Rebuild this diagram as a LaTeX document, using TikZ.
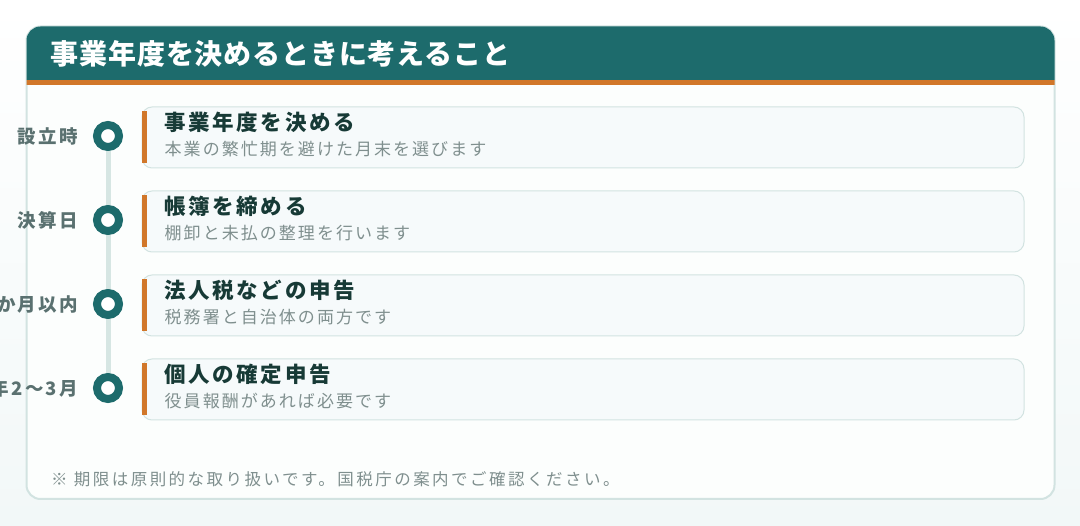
\documentclass[tikz,border=0pt]{standalone}
\usepackage{fontspec}
\setmainfont{Noto Sans CJK JP}
\newfontfamily\jphead{Noto Sans CJK JP}[LetterSpace=3]
\newfontfamily\jpttl{Noto Sans CJK JP}[LetterSpace=12]
\newfontfamily\jpwhen{Noto Sans CJK JP}[LetterSpace=12]
\newfontfamily\jpwide{Noto Sans CJK JP}[LetterSpace=12]
\newfontfamily\jpnote{Noto Sans CJK JP}[LetterSpace=15]
\usetikzlibrary{positioning}
\definecolor{pagebg}{HTML}{F2F8F8}
\definecolor{cardbg}{HTML}{FCFEFD}
\definecolor{cardline}{HTML}{D2E3E1}
\definecolor{headteal}{HTML}{1D6B6C}
\definecolor{accent}{HTML}{D1772A}
\definecolor{ttlclr}{HTML}{173A36}
\definecolor{subclr}{HTML}{7F8F8E}
\definecolor{whenclr}{HTML}{5A7170}
\definecolor{railclr}{HTML}{D6E6E3}
\definecolor{itemfill}{HTML}{F6FAFB}
\tikzset{
  dot/.style={circle, draw=headteal, line width=8pt, fill=white, minimum size=22pt, inner sep=0pt, outer sep=4pt},
  rail/.style={railclr, line width=5pt},
  when/.style={inner sep=0pt, text=whenclr, font=\jpwhen\bfseries\fontsize{18.5}{18.5}\selectfont},
  item/.style={draw=cardline, fill=itemfill, line width=1pt, rounded corners=10pt, minimum width=882pt, minimum height=61pt, inner sep=0pt},
  ttl/.style={inner sep=0pt, text=ttlclr, font=\jpttl\bfseries\fontsize{21.5}{21.5}\selectfont},
  sub/.style={inner sep=0pt, text=subclr, font=\jpwide\fontsize{17}{17}\selectfont}
}
\begin{document}
\begin{tikzpicture}[x=1pt,y=-1pt]
  \useasboundingbox (0,0) rectangle (1080,526);
  \shade[top color=white, bottom color=pagebg] (0,0) rectangle (1080,526);
  % Card and header
  \draw[cardline, fill=cardbg, line width=2pt, rounded corners=14pt] (26.5,26.5) rectangle (1054.5,499);
  \begin{scope}
    \clip[rounded corners=14pt] (26.5,26.5) rectangle (1054.5,499);
    \fill[headteal] (20,20) rectangle (1060,80);
    \fill[accent] (20,80) rectangle (1060,85);
  \end{scope}
  \node[inner sep=0pt, anchor=base west, text=white, font=\jphead\bfseries\fontsize{28}{28}\selectfont] (head) at (50.5,65) {事業年度を決めるときに考えること};
  % Steps
  \foreach \i/\y/\lab/\ttl/\sub in {1/136/設立時/事業年度を決める/本業の繁忙期を避けた月末を選びます,
      2/220/決算日/帳簿を締める/棚卸と未払の整理を行います,
      3/304/か月以内/法人税などの申告/税務署と自治体の両方です,
      4/388/年2〜3月/個人の確定申告/役員報酬があれば必要です} {
    \node[dot] (d\i) at (108,\y) {};
    \node[when, left=15pt of d\i] (w\i) {\lab};
    \node[item] (c\i) at (583,\y+1.5) {};
    \fill[accent] ([yshift=-5pt]c\i.north west) rectangle ([xshift=5pt,yshift=5pt]c\i.south west);
    \node[ttl, anchor=base west] (t\i) at ([xshift=23pt,yshift=7pt]c\i.west) {\ttl};
    \node[sub, anchor=base west] (s\i) at ([xshift=23pt,yshift=-18.5pt]c\i.west) {\sub};
  }
  \foreach \i/\j in {1/2,2/3,3/4} \draw[rail] (d\i) -- (d\j);
  % Note
  \node[inner sep=0pt, anchor=base west, text=subclr, font=\jpnote\fontsize{16.5}{16.5}\selectfont] (note) at (51,486) {※ 期限は原則的な取り扱いです。国税庁の案内でご確認ください。};
\end{tikzpicture}
\end{document}
